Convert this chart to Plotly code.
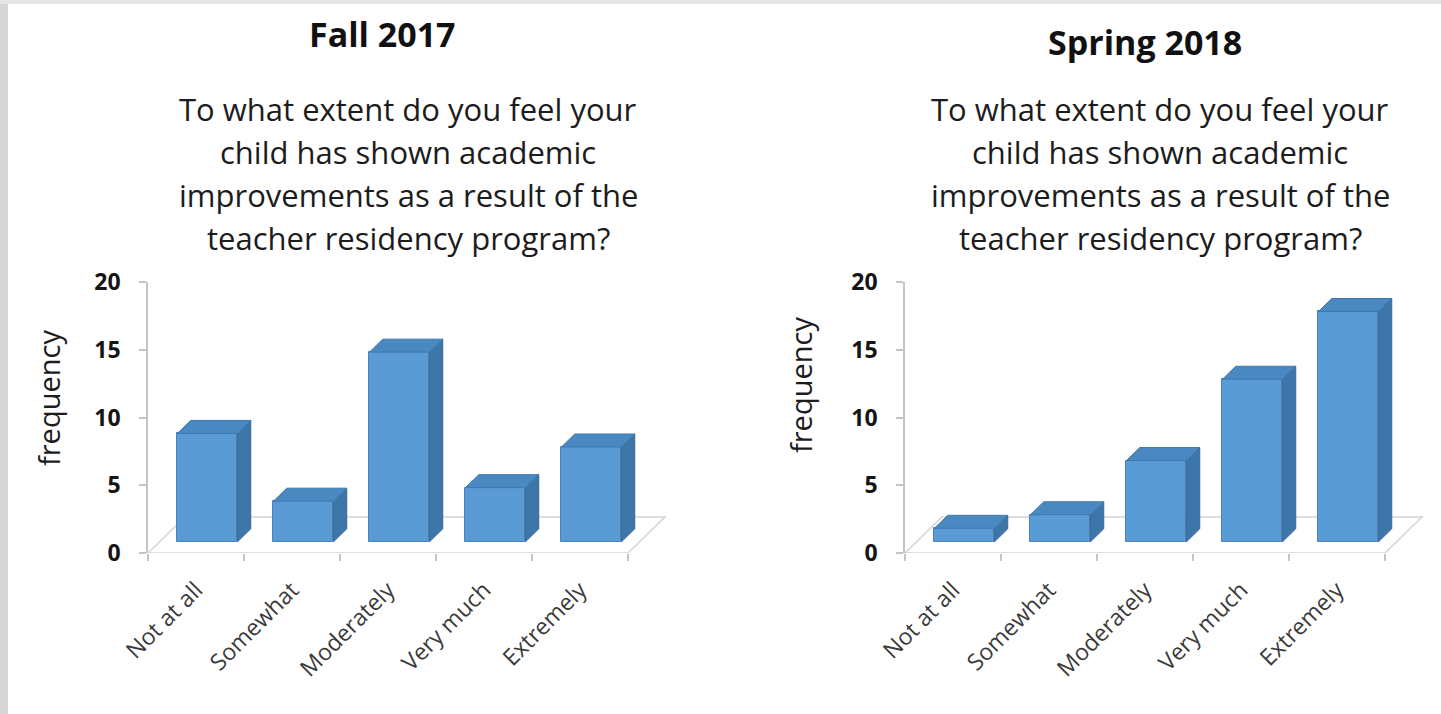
import plotly.graph_objects as go

# ---------------- data ----------------
categories = ["Not at all", "Somewhat", "Moderately", "Very much", "Extremely"]
fall_2017 = [8, 3, 14, 4, 7]
spring_2018 = [1, 2, 6, 12, 17]
panel_titles = ["Fall 2017", "Spring 2018"]
question_lines = [
    "To what extent do you feel your",
    "child has shown academic",
    "improvements as a result of the",
    "teacher residency program?",
]
y_ticks = [0, 5, 10, 15, 20]
y_title = "frequency"

# ---------------- style ----------------
W, H = 1441, 714
FRONT = "#5b9bd5"
SIDE = "#3d77aa"
TOP = "#4a88c2"
EDGE = "#4a83b8"
AXIS_GREY = "#c4c4c4"
FONT = "Open Sans"

# pseudo-3D geometry (in data units)
FLOOR_DX, FLOOR_DY = 0.385, 2.66      # depth vector of the floor
F0 = 0.31                              # depth fraction of bar front face
FB = 0.36                              # bar depth fraction
BAR_W = 0.625


def px_x(p):
    return p / W


def px_y(p):
    return 1 - p / H


fig = go.Figure()

panels = [
    dict(values=fall_2017, axis_px=148, xa="x", ya="y", title=panel_titles[0],
         title_x=383, title_y=34, q_x=408, yt_x=48, yt_y=398),
    dict(values=spring_2018, axis_px=905, xa="x2", ya="y2", title=panel_titles[1],
         title_x=1145, title_y=42, q_x=1160, yt_x=800, yt_y=385),
]

n = len(categories)
x_lo, x_hi = -0.5, n - 0.5 + 0.45
unit_px = 96
shapes = []
annotations = []

for k, p in enumerate(panels):
    vals = p["values"]
    xref = p["xa"]
    yref = p["ya"]
    # floor parallelogram (drawn below the traces)
    fx = [-0.5, n - 0.5, n - 0.5 + FLOOR_DX, -0.5 + FLOOR_DX]
    fy = [0, 0, FLOOR_DY, FLOOR_DY]
    path = "M %f,%f L %f,%f L %f,%f L %f,%f Z" % (fx[0], fy[0], fx[1], fy[1],
                                                  fx[2], fy[2], fx[3], fy[3])
    shapes.append(dict(type="path", path=path, xref=xref, yref=yref,
                       fillcolor="white", line=dict(color="#d3d3d3", width=1.5),
                       layer="below"))
    off_x = F0 * FLOOR_DX
    off_y = F0 * FLOOR_DY
    sdx = FB * FLOOR_DX
    sdy = FB * FLOOR_DY
    xs = [i + off_x for i in range(n)]
    side_x, side_y, top_x, top_y = [], [], [], []
    for i, v in enumerate(vals):
        xl = xs[i] - BAR_W / 2
        xr = xs[i] + BAR_W / 2
        b = off_y
        side_x += [xr, xr + sdx, xr + sdx, xr, xr, None]
        side_y += [b, b + sdy, b + v + sdy, b + v, b, None]
        top_x += [xl, xr, xr + sdx, xl + sdx, xl, None]
        top_y += [b + v, b + v, b + v + sdy, b + v + sdy, b + v, None]
    fig.add_trace(go.Bar(x=xs, y=vals, base=[off_y] * n, width=BAR_W,
                         marker=dict(color=FRONT, line=dict(color=EDGE, width=1)),
                         showlegend=False, xaxis=xref, yaxis=yref, name=p["title"]))
    fig.add_trace(go.Scatter(x=side_x, y=side_y, mode="lines", fill="toself",
                             fillcolor=SIDE, line=dict(color="#36699a", width=1),
                             hoverinfo="skip", showlegend=False, xaxis=xref, yaxis=yref))
    fig.add_trace(go.Scatter(x=top_x, y=top_y, mode="lines", fill="toself",
                             fillcolor=TOP, line=dict(color="#3f78ad", width=1),
                             hoverinfo="skip", showlegend=False, xaxis=xref, yaxis=yref))

    # titles
    annotations.append(dict(text="<b>%s</b>" % p["title"], x=px_x(p["title_x"]),
                            y=px_y(p["title_y"]), xref="paper", yref="paper",
                            showarrow=False, xanchor="center", yanchor="middle",
                            font=dict(family=FONT, size=34, color="#111111")))
    for j, line in enumerate(question_lines):
        annotations.append(dict(text=line, x=px_x(p["q_x"]), y=px_y(109 + j * 43),
                                xref="paper", yref="paper", showarrow=False,
                                xanchor="center", yanchor="middle",
                                font=dict(family=FONT, size=31, color="#1c1c1c")))
    annotations.append(dict(text=y_title, x=px_x(p["yt_x"]), y=px_y(p["yt_y"]),
                            xref="paper", yref="paper", showarrow=False, textangle=-90,
                            xanchor="center", yanchor="middle",
                            font=dict(family=FONT, size=29, color="#1c1c1c")))

    a0 = p["axis_px"]
    a1 = a0 + (x_hi - x_lo) * unit_px
    xaxis_cfg = dict(domain=[px_x(a0), px_x(a1)], range=[x_lo, x_hi],
                     tickmode="array", tickvals=list(range(n)), ticktext=categories,
                     tickangle=-45, ticks="", showline=False, showgrid=False,
                     zeroline=False, tickfont=dict(family=FONT, size=23, color="#3a3a3a"),
                     ticklabelstandoff=18, automargin=False,
                     minor=dict(tickmode="array", tickvals=[i - 0.5 for i in range(n + 1)],
                                ticks="outside", ticklen=7, tickcolor=AXIS_GREY,
                                tickwidth=1.5, showgrid=False),
                     fixedrange=True, anchor=yref)
    yaxis_cfg = dict(domain=[px_y(553), px_y(282)], range=[0, 20],
                     tickvals=y_ticks, ticks="outside", ticklen=7, tickcolor=AXIS_GREY,
                     tickwidth=1.5, showline=True, linecolor=AXIS_GREY, linewidth=1.5,
                     showgrid=False, zeroline=False, automargin=False,
                     tickfont=dict(family=FONT, size=23, color="#151515", weight="bold"),
                     ticklabelstandoff=14, anchor=xref, fixedrange=True)
    if k == 0:
        fig.update_layout(xaxis=xaxis_cfg, yaxis=yaxis_cfg)
    else:
        fig.update_layout(xaxis2=xaxis_cfg, yaxis2=yaxis_cfg)

# grey frame strips (left and top)
shapes.append(dict(type="rect", xref="paper", yref="paper", x0=0, x1=px_x(8), y0=0, y1=1,
                   fillcolor="#d6d6d6", line=dict(width=0), layer="below"))
shapes.append(dict(type="rect", xref="paper", yref="paper", x0=0, x1=1, y0=px_y(4), y1=1,
                   fillcolor="#e4e4e4", line=dict(width=0), layer="below"))

fig.update_layout(width=W, height=H, autosize=False,
                  margin=dict(l=0, r=0, t=0, b=0, pad=0, autoexpand=False),
                  paper_bgcolor="white", plot_bgcolor="rgba(0,0,0,0)",
                  shapes=shapes, annotations=annotations, showlegend=False,
                  bargap=0)

fig.write_html("out.html", config={"displayModeBar": False},
               post_script="document.body.style.margin='0';document.body.style.overflow='hidden';")
